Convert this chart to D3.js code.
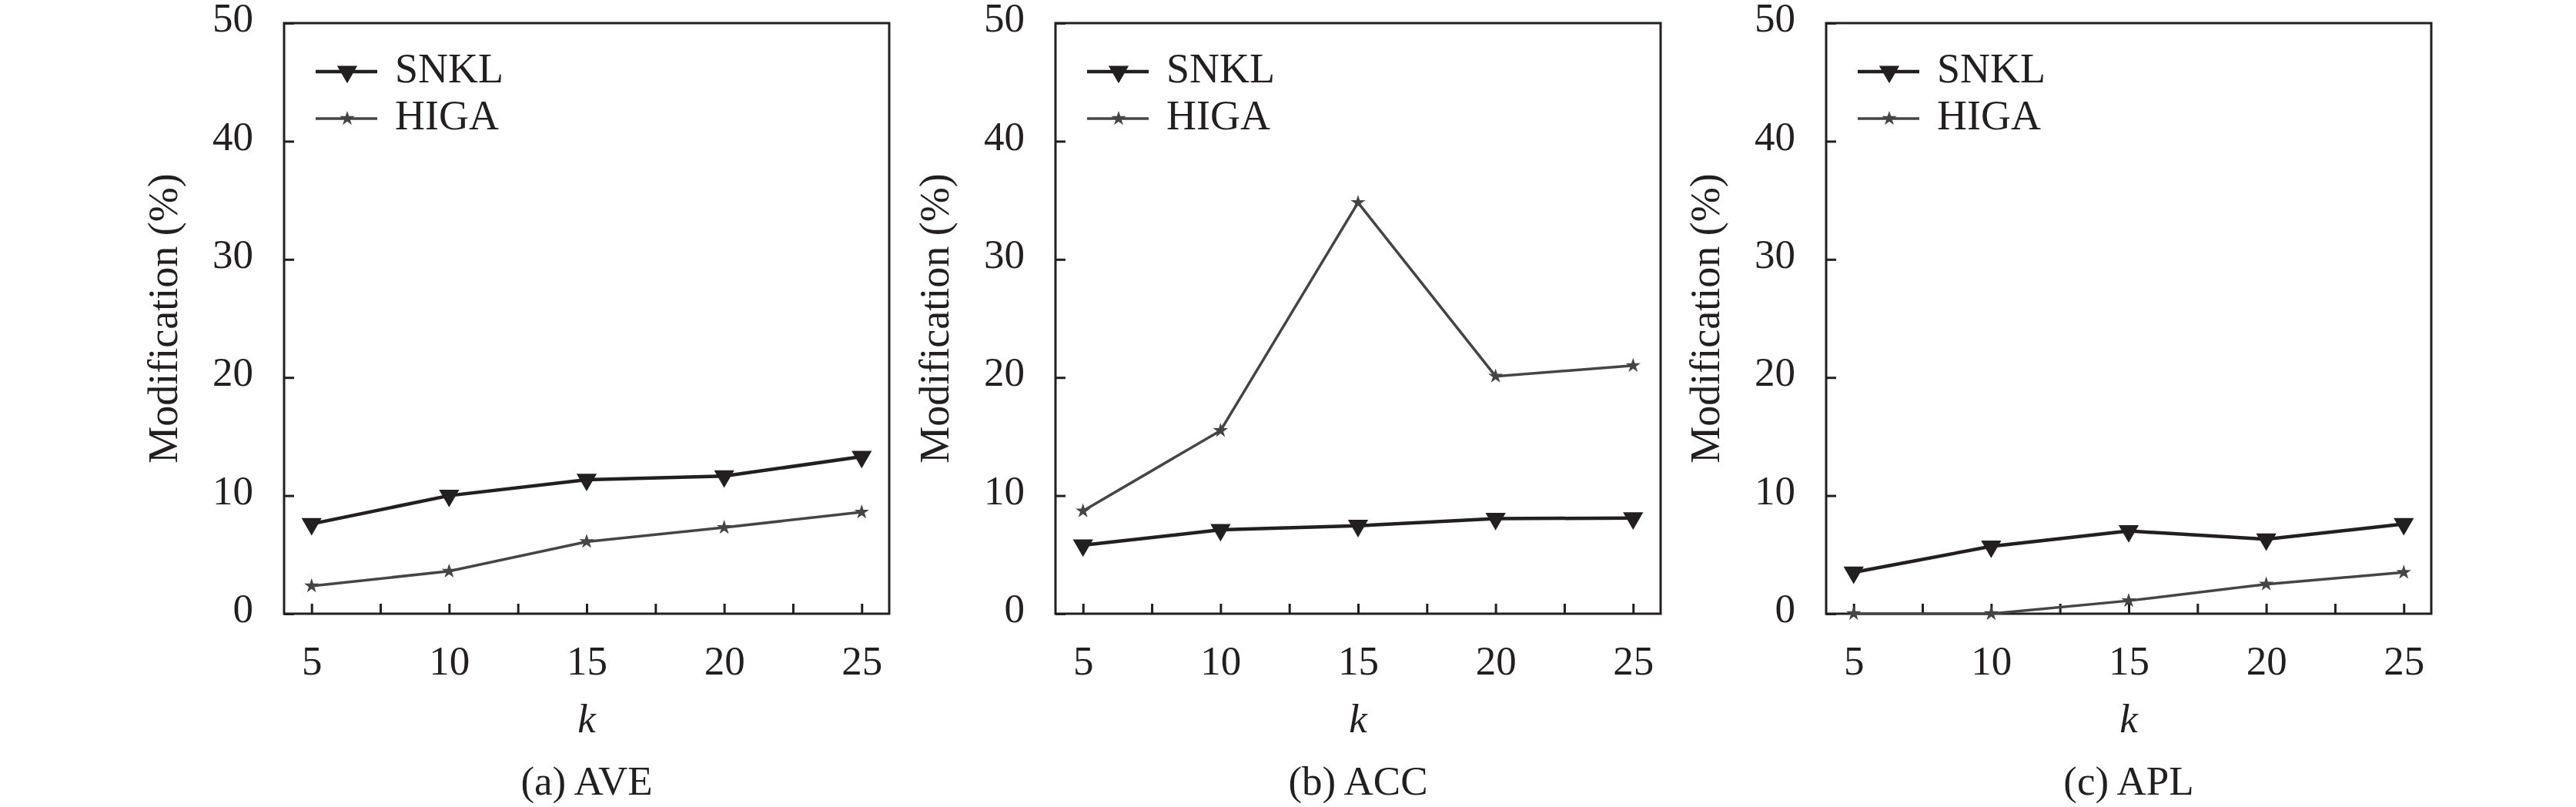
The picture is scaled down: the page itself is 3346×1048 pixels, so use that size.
<!DOCTYPE html>
<html>
<head>
<meta charset="utf-8">
<script src="https://cdn.jsdelivr.net/npm/d3@7"></script>
<style>
  body { margin: 0; background: #fff; }
  svg text { font-family: "Liberation Serif", "Times New Roman", serif; fill: #231f20; }
</style>
</head>
<body>
<svg id="chart" width="3346" height="1048"></svg>
<script>
// data
var kValues = [5, 10, 15, 20, 25];
var panelNames = ['(a) AVE', '(b) ACC', '(c) APL'];
var snklAVE = [7.6, 10.0, 11.35, 11.65, 13.3];
var higaAVE = [2.35, 3.6, 6.1, 7.3, 8.6];
var snklACC = [5.8, 7.1, 7.45, 8.05, 8.1];
var higaACC = [8.7, 15.5, 34.8, 20.1, 21.0];
var snklAPL = [3.5, 5.7, 7.0, 6.3, 7.6];
var higaAPL = [0, 0, 1.1, 2.5, 3.5];
var yTicks = [0, 10, 20, 30, 40, 50];
var xMinor = [7.5, 12.5, 17.5, 22.5];
var seriesNames = ['SNKL', 'HIGA'];

var panels = [
  {name: panelNames[0], snkl: snklAVE, higa: higaAVE},
  {name: panelNames[1], snkl: snklACC, higa: higaACC},
  {name: panelNames[2], snkl: snklAPL, higa: higaAPL}
];

var ink = '#231f20';
var grey = '#454545';
// note: "top" is taken by window.top, so use plot* names
var plotLeft = 369, plotRight = 1155, plotTop = 30, plotBottom = 797;
var panelStep = 1001.5;

var svg = d3.select('#chart');

var x = d3.scaleLinear().domain([4, 26]).range([plotLeft, plotRight]);
var y = d3.scaleLinear().domain([0, 50]).range([plotBottom, plotTop]);

var line = d3.line().x(function(d, i) { return x(kValues[i]); }).y(function(d) { return y(d); });
var triangle = d3.symbol().type(d3.symbolTriangle).size(300);
var star = d3.symbol().type(d3.symbolStar).size(115);

panels.forEach(function(p, pi) {
  var g = svg.append('g').attr('transform', 'translate(' + Math.round(pi * panelStep) + ',0)');

  // x axis, ticks pointing inward
  g.append('g').attr('transform', 'translate(0,' + plotBottom + ')')
    .call(d3.axisBottom(x).tickValues(kValues).tickSizeInner(-13).tickSizeOuter(0).tickPadding(41));
  g.append('g').attr('transform', 'translate(0,' + plotBottom + ')')
    .call(d3.axisBottom(x).tickValues(xMinor).tickSizeInner(-13).tickSizeOuter(0).tickFormat(''));

  var yAxis = g.append('g').attr('transform', 'translate(' + plotLeft + ',0)')
    .call(d3.axisLeft(y).tickValues(yTicks).tickSizeInner(-13).tickSizeOuter(0).tickPadding(40));
  yAxis.selectAll('text').attr('dy', '0.2em');

  g.selectAll('.domain').remove();
  g.selectAll('.tick line').attr('stroke', ink).attr('stroke-width', 3);
  g.selectAll('.tick text').attr('font-size', 53).attr('fill', ink)
    .style('font-family', '"Liberation Serif", serif');

  // frame
  g.append('rect').attr('x', plotLeft).attr('y', plotTop)
    .attr('width', plotRight - plotLeft).attr('height', plotBottom - plotTop)
    .attr('fill', 'none').attr('stroke', ink).attr('stroke-width', 3);

  // HIGA
  g.append('path').datum(p.higa).attr('d', line)
    .attr('fill', 'none').attr('stroke', grey).attr('stroke-width', 3.5);
  g.selectAll('path.star').data(p.higa).enter().append('path').attr('class', 'star')
    .attr('d', star).attr('fill', grey)
    .attr('transform', function(d, i) { return 'translate(' + x(kValues[i]) + ',' + y(d) + ')'; });

  // SNKL
  g.append('path').datum(p.snkl).attr('d', line)
    .attr('fill', 'none').attr('stroke', ink).attr('stroke-width', 4.5);
  g.selectAll('path.tri').data(p.snkl).enter().append('path').attr('class', 'tri')
    .attr('d', triangle).attr('fill', ink)
    .attr('transform', function(d, i) { return 'translate(' + x(kValues[i]) + ',' + y(d) + ') rotate(180)'; });

  // legend
  var leg = g.append('g');
  leg.append('line').attr('x1', 410).attr('x2', 490).attr('y1', 93).attr('y2', 93)
    .attr('stroke', ink).attr('stroke-width', 4.5);
  leg.append('path').attr('d', triangle).attr('fill', ink)
    .attr('transform', 'translate(451,93) rotate(180)');
  leg.append('text').attr('x', 513).attr('y', 107).attr('font-size', 54).text(seriesNames[0]);

  leg.append('line').attr('x1', 410).attr('x2', 490).attr('y1', 154).attr('y2', 154)
    .attr('stroke', grey).attr('stroke-width', 3.5);
  leg.append('path').attr('d', star).attr('fill', grey)
    .attr('transform', 'translate(451,154)');
  leg.append('text').attr('x', 513).attr('y', 168).attr('font-size', 54).text(seriesNames[1]);

  // axis titles and caption
  g.append('text').attr('transform', 'translate(230,' + (plotTop + plotBottom) / 2 + ') rotate(-90)')
    .attr('text-anchor', 'middle').attr('font-size', 54).text('Modification (%)');
  g.append('text').attr('x', (plotLeft + plotRight) / 2).attr('y', 951)
    .attr('text-anchor', 'middle').attr('font-size', 53).attr('font-style', 'italic').text('k');
  g.append('text').attr('x', (plotLeft + plotRight) / 2).attr('y', 1032)
    .attr('text-anchor', 'middle').attr('font-size', 53).text(p.name);
});
</script>
</body>
</html>
